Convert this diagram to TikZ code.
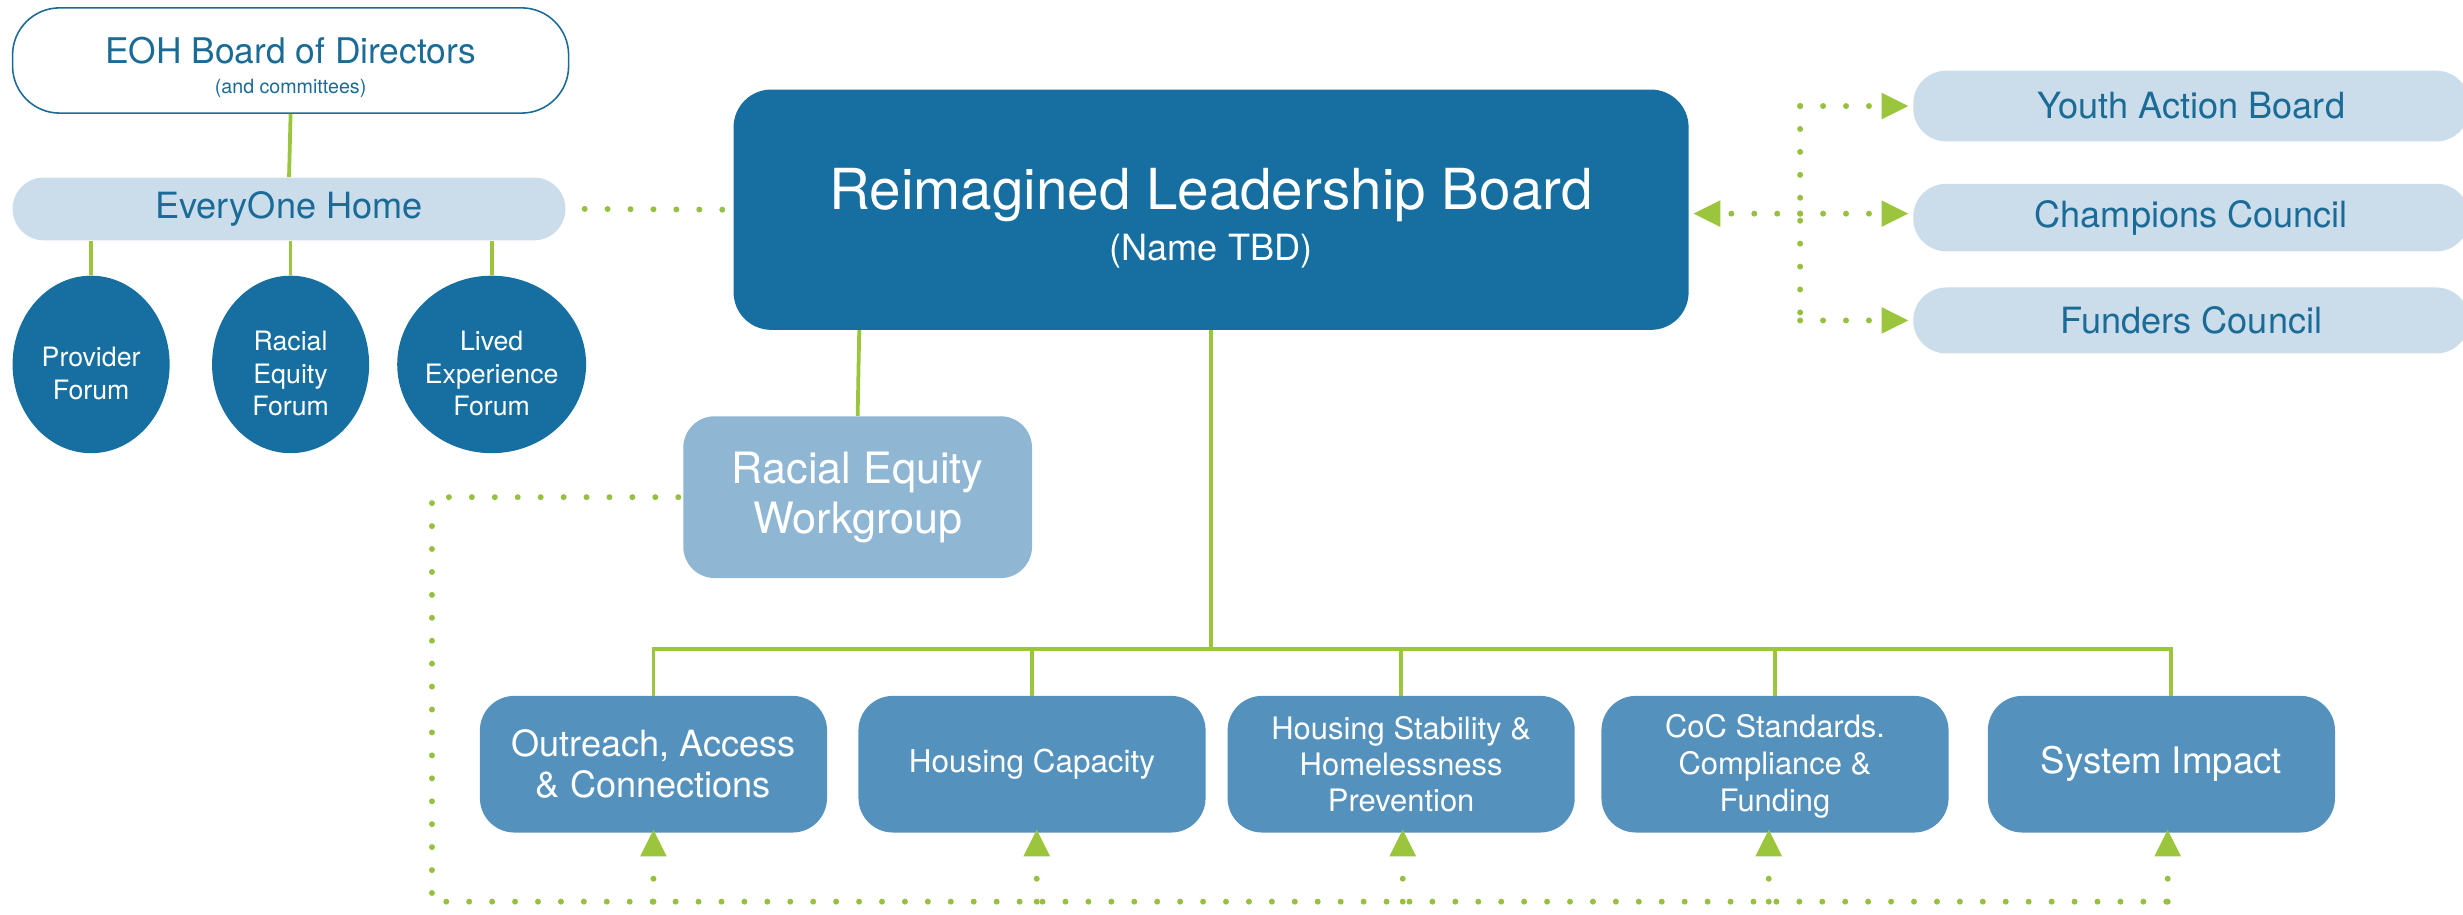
\documentclass[tikz,border=0pt]{standalone}
\usepackage{fontspec}
\setmainfont{TeX Gyre Heros}
\usetikzlibrary{shapes.geometric,arrows.meta}
\definecolor{dkblue}{RGB}{22,111,160}
\definecolor{midblue}{RGB}{84,145,189}
\definecolor{rewblue}{RGB}{143,183,212}
\definecolor{paleblue}{RGB}{203,221,235}
\definecolor{txtblue}{RGB}{27,107,151}
\definecolor{lgreen}{RGB}{155,197,61}
\definecolor{dotgreen}{RGB}{150,192,64}
\newcommand{\fs}[2]{\fontsize{#1}{#2}\selectfont}
\newcommand{\lift}[1]{\rule{0pt}{#1}}
\tikzset{
  conn/.style={draw=lgreen, line width=2.4pt},
  dotline/.style={draw=dotgreen, line width=3.8pt, line cap=round, dash pattern=on 0pt off 14.6pt},
  dotarrow/.style={dotline, -{Triangle[length=17pt,width=17pt,line width=0pt,fill=lgreen]}},
  eohbox/.style={draw=txtblue, line width=1pt, fill=white, rounded corners=30pt, minimum width=354pt, minimum height=67pt, text=txtblue, align=center, inner sep=0pt},
  palebox/.style={fill=paleblue, rounded corners=21pt, minimum width=354pt, minimum height=44pt, text=txtblue, align=center, inner sep=0pt, font=\fs{23}{27}},
  forum/.style={ellipse, fill=dkblue, minimum width=100pt, minimum height=113pt, inner sep=0pt, text=white, align=center, font=\fs{17}{20.5}},
  mainbox/.style={fill=dkblue, rounded corners=24pt, minimum width=608pt, minimum height=153pt, text=white, align=center, inner sep=0pt},
  rewbox/.style={fill=rewblue, rounded corners=20pt, minimum width=222pt, minimum height=103pt, text=white, align=center, inner sep=0pt, font=\fs{27.5}{32}},
  subbox/.style={fill=midblue, rounded corners=22pt, minimum width=221pt, minimum height=87pt, text=white, align=center, inner sep=0pt},
}
\begin{document}
\begin{tikzpicture}[x=1pt,y=-1pt]
\useasboundingbox (0,0) rectangle (1568,582);
% left group
\node[eohbox, font=\fs{22.5}{26}] (eoh) at (185,38.5) {\lift{26pt}EOH Board of Directors\\[-7pt]{\fs{12.5}{14}(and committees)}};
\node[palebox, minimum width=352pt, minimum height=40pt, rounded corners=20pt] (home) at (184,133) {EveryOne Home};
\node[forum] (prov) at (58,232) {\lift{24pt}Provider\\Forum};
\node[forum] (ref) at (185,232) {\lift{24pt}Racial\\Equity\\Forum};
\node[forum] (lef) at (313,232) {\lift{24pt}Lived\\Experience\\Forum};
% main board
\node[mainbox] (rlb) at (771,133.5) {{\fs{36}{40}\lift{37pt}Reimagined Leadership Board}\\[7pt]{\fs{23}{28}(Name TBD)}};
% right boxes
\node[palebox, minimum height=45pt] (yab) at (1395,67.5) {Youth Action Board};
\node[palebox, minimum height=43pt] (cc) at (1395,138.5) {Champions Council};
\node[palebox, minimum height=42pt] (fc) at (1395,204) {Funders Council};
% workgroup
\node[rewbox] (rew) at (546,316.5) {Racial Equity\\Workgroup};
% bottom boxes
\node[subbox, font=\fs{23}{26}] (oac) at (416,486.5) {Outreach, Access\\\& Connections};
\node[subbox, font=\fs{20}{23}] (hc) at (657,486.5) {Housing Capacity};
\node[subbox, font=\fs{19.7}{23}] (hs) at (892,486.5) {Housing Stability \&\\Homelessness\\Prevention};
\node[subbox, font=\fs{19.7}{23.5}] (coc) at (1130,486.5) {\lift{17pt}CoC Standards.\\Compliance \&\\Funding};
\node[subbox, font=\fs{23.3}{26}] (si) at (1376,486.5) {System Impact};
% coordinates
\coordinate (bus) at (771,413);
\coordinate (hub) at (1146,136);
\coordinate (bl) at (275,574);
% solid connectors
\draw[conn] (eoh.south) -- (home.north);
\draw[conn] (prov.north |- home.south) -- (prov.north);
\draw[conn] (ref.north |- home.south) -- (ref.north);
\draw[conn] (lef.north |- home.south) -- (lef.north);
\draw[conn] ([xshift=-224pt]rlb.south) -- (rew.north);
\draw[conn] (rlb.south) -- (bus);
\draw[conn] (oac.north) |- ([xshift=6pt]si.north |- bus) -- ([xshift=6pt]si.north);
\draw[conn] (hc.north |- bus) -- (hc.north);
\draw[conn] (hs.north |- bus) -- (hs.north);
\draw[conn] (coc.north |- bus) -- (coc.north);
% dotted connectors
\draw[dotline] ([xshift=12pt]home.east) -- ([xshift=-5pt]rlb.west);
\draw[dotline] (hub |- yab) -- (hub |- fc);
\draw[dotarrow] (hub) -- ([xshift=3pt]rlb.east |- hub);
\draw[dotarrow] (hub |- yab) -- ([xshift=-3pt]yab.west);
\draw[dotarrow] (hub) -- ([xshift=-3pt]cc.west |- hub);
\draw[dotarrow] (hub |- fc) -- ([xshift=-3pt]fc.west);
\draw[dotline] ([xshift=-3pt]rew.west) -| (bl) -- ([xshift=6pt]si.south |- bl);
\draw[dotarrow] (oac.south |- bl) -- ([yshift=2pt]oac.south);
\draw[dotarrow] ([xshift=3pt]hc.south |- bl) -- ([xshift=3pt,yshift=2pt]hc.south);
\draw[dotarrow] ([xshift=1pt]hs.south |- bl) -- ([xshift=1pt,yshift=2pt]hs.south);
\draw[dotarrow] ([xshift=-4pt]coc.south |- bl) -- ([xshift=-4pt,yshift=2pt]coc.south);
\draw[dotarrow] ([xshift=4pt]si.south |- bl) -- ([xshift=4pt,yshift=2pt]si.south);
\end{tikzpicture}
\end{document}
